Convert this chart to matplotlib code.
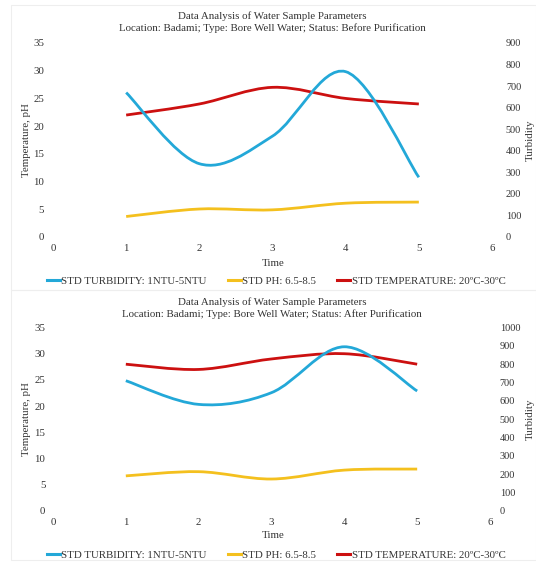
import numpy as np
import matplotlib.pyplot as plt
from matplotlib.path import Path
from matplotlib.patches import PathPatch, Rectangle
from matplotlib.lines import Line2D

plt.rcParams['font.family'] = ['Liberation Serif', 'DejaVu Serif']

# data
time = [1, 2, 3, 4, 5]
before_turbidity = [670, 340, 468, 767, 277]
before_ph = [3.7, 5.05, 4.9, 6.1, 6.3]
before_temp = [22, 24, 27, 25, 24]
after_turbidity = [710, 581, 645, 895, 654]
after_ph = [6.7, 7.5, 6.1, 7.8, 8.0]
after_temp = [28, 27, 29, 30, 28]

series_names = ["STD TURBIDITY: 1NTU-5NTU", "STD PH: 6.5-8.5",
                "STD TEMPERATURE: 20\u00baC-30\u00baC"]
series_colors = ["#23A8D8", "#F4C01E", "#CC1010"]
title_main = "Data Analysis of Water Sample Parameters"
subtitles = ["Location: Badami; Type: Bore Well Water; Status: Before Purification",
             "Location: Badami; Type: Bore Well Water; Status: After Purification"]

W, H = 536, 563
FS = 7.8


def smooth_path(x, y):
    # Excel style smoothed line: one cubic bezier between each pair of points
    pts = np.column_stack([x, y]).astype(float)
    n = len(pts)
    verts = [pts[0]]
    codes = [Path.MOVETO]
    for i in range(n - 1):
        p0 = pts[max(i - 1, 0)]
        p1 = pts[i]
        p2 = pts[i + 1]
        p3 = pts[min(i + 2, n - 1)]
        verts += [p1 + (p2 - p0) / 6, p2 - (p3 - p1) / 6, p2]
        codes += [Path.CURVE4] * 3
    return Path(verts, codes)


def fx(px):
    return px / W


def fy(py):
    return 1 - py / H


def draw_panel(fig, x0, x6, y0, y35, subtitle, turb, ph, temp, turb_max,
               title_y, time_y, legend_y, lpad, rpad, rlabel_x):
    ax = fig.add_axes([fx(x0), fy(y0), (x6 - x0) / W, (y0 - y35) / H])
    ax2 = ax.twinx()
    ax.set_xlim(0, 6)
    ax.set_ylim(0, 35)
    ax2.set_ylim(0, turb_max)
    ax.set_xticks(range(0, 7))
    ax.set_yticks(range(0, 36, 5))
    ax2.set_yticks(range(0, turb_max + 1, 100))
    for a in (ax, ax2):
        for s in a.spines.values():
            s.set_visible(False)
        a.tick_params(length=0, labelsize=FS, colors="#333333")
    ax.tick_params(axis="y", pad=lpad)
    ax.tick_params(axis="x", pad=5)
    ax2.tick_params(axis="y", pad=rpad, labelsize=FS - 0.4)
    ax2.set_zorder(ax.get_zorder() + 1)
    ax2.patch.set_visible(False)

    lw = 2.0
    ax.add_patch(PathPatch(smooth_path(time, ph), fill=False,
                           edgecolor=series_colors[1], lw=lw))
    ax.add_patch(PathPatch(smooth_path(time, temp), fill=False,
                           edgecolor=series_colors[2], lw=lw))
    ax2.add_patch(PathPatch(smooth_path(time, turb), fill=False,
                            edgecolor=series_colors[0], lw=lw))

    ax.set_ylabel("Temperature, pH", fontsize=FS, color="#333333")
    ax.yaxis.set_label_coords((31 - x0) / (x6 - x0), 0.5)
    ax2.set_ylabel("Turbidity", fontsize=FS, color="#333333", rotation=90)
    ax2.yaxis.set_label_coords((rlabel_x - x0) / (x6 - x0), 0.5)

    cx = fx(272)
    fig.text(cx, fy(title_y), title_main, ha="center", va="center",
             fontsize=FS, color="#333333")
    fig.text(cx, fy(title_y + 12), subtitle, ha="center", va="center",
             fontsize=FS, color="#333333")
    fig.text(fx(273), fy(time_y), "Time", ha="center", va="center",
             fontsize=FS, color="#333333")

    handles = [Line2D([], [], color=c, lw=2.2) for c in series_colors]
    fig.legend(handles, series_names, loc="center",
               bbox_to_anchor=(fx(276), fy(legend_y)), ncol=3, frameon=False,
               fontsize=FS, handlelength=1.2, handletextpad=0.1,
               columnspacing=2.0, labelcolor="#333333")


def main():
    fig = plt.figure(figsize=(W / 100, H / 100), dpi=100)
    fig.patch.set_facecolor("white")

    # faint chart-area borders
    for (l, t, r, b) in [(11, 5, 536, 290), (11, 290, 536, 560)]:
        fig.add_artist(Rectangle((fx(l), fy(b)), (r - l) / W, (b - t) / H,
                                 transform=fig.transFigure, fill=False,
                                 edgecolor="#eeeeee", lw=0.8))

    draw_panel(fig, 53, 492, 237, 43, subtitles[0], before_turbidity,
               before_ph, before_temp, 900, 16, 263, 281, 6.5, 10, 526)
    draw_panel(fig, 53, 490, 511, 327.5, subtitles[1], after_turbidity,
               after_ph, after_temp, 1000, 302, 536, 555, 5.5, 7, 526)

    fig.savefig("out.png", dpi=100)


if __name__ == "__main__":
    main()
